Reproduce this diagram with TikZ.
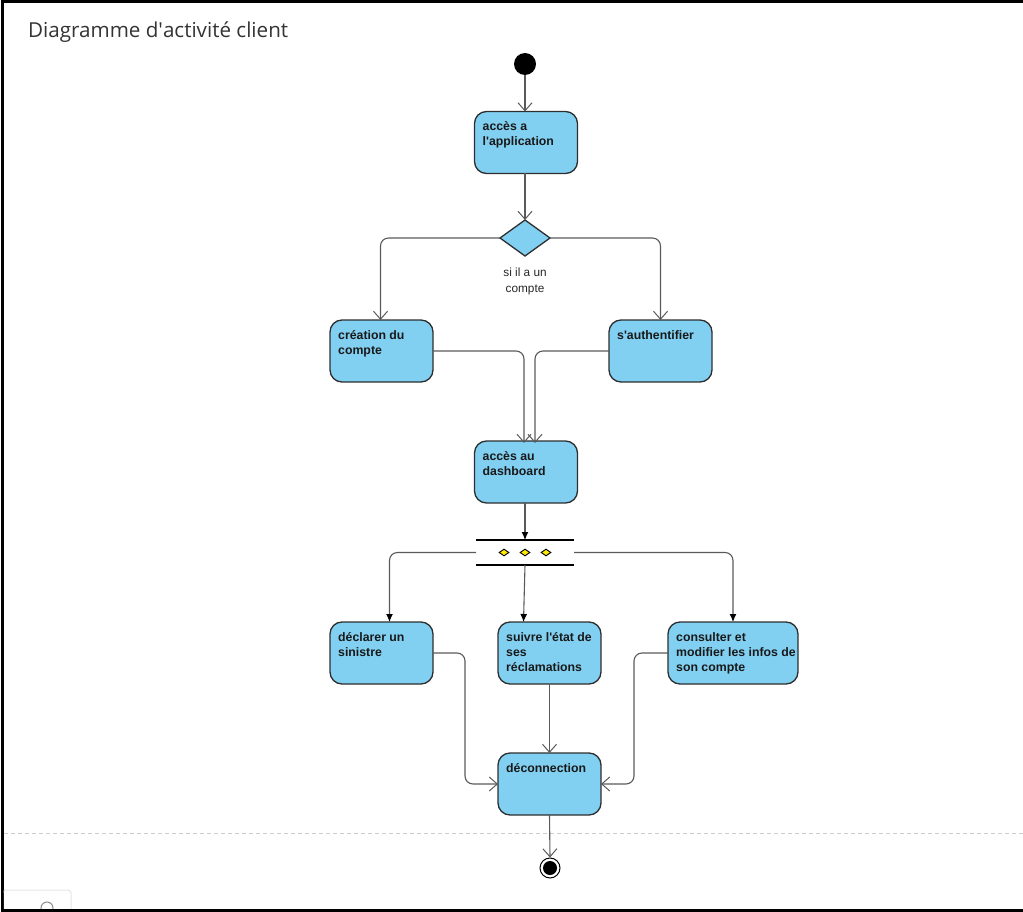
\documentclass[tikz,border=0pt]{standalone}
\usepackage{fontspec}
\setmainfont{Liberation Sans}
\newfontfamily\titlefont{Open Sans}
\usetikzlibrary{arrows.meta,shapes.geometric}

\definecolor{actfill}{HTML}{81D0F2}
\definecolor{actdraw}{HTML}{2E2E2E}
\definecolor{flow}{HTML}{5A5A5A}
\definecolor{titlegray}{HTML}{333333}

\newcommand{\apos}{\textquotesingle}

\tikzset{
  activity/.style={draw=actdraw, fill=actfill, line width=1.3pt, rounded corners=12pt,
    minimum width=#1, minimum height=62pt, inner sep=0pt, outer sep=0pt},
  activity/.default=103pt,
  acttext/.style={font=\fontsize{12.3}{15}\selectfont\bfseries, text=black!90,
    align=left, anchor=north west, inner sep=0pt},
  flowline/.style={draw=flow, line width=1.1pt, rounded corners=8pt},
  openarrow/.style={flowline, -{Straight Barb[length=8pt,width=14pt,line width=1pt]}},
  forkarrow/.style={flowline, -{Latex[length=8pt,width=7pt]}, arrows={[color=black]}},
  decision/.style={diamond, draw=actdraw, fill=actfill, line width=1.3pt,
    minimum width=50pt, minimum height=36pt, inner sep=0pt, outer sep=0pt},
  pip/.style={diamond, draw=black, fill=yellow!90!orange, line width=0.9pt,
    minimum width=10pt, minimum height=7pt, inner sep=0pt},
  forkbar/.style={line width=2pt, draw=black},
}

\begin{document}
\begin{tikzpicture}[x=1pt, y=-1pt]
  \useasboundingbox (0,0) rectangle (1023,912);

  % frame and page guides
  \draw[black, line width=3pt] (1023,2) -- (2,2) -- (2,910) -- (1023,910);
  \draw[black!20, line width=1pt, dash pattern=on 4pt off 3pt] (4,833) -- (1023,833);
  \begin{scope}
    \clip (3.5,0) rectangle (1023,908.5);
    \draw[black!10, line width=1pt, rounded corners=3pt] (3,890) rectangle (71,930);
    \draw[black!45, line width=1pt] (47,908) circle (6pt);
  \end{scope}

  % title
  \node[anchor=west, font=\titlefont\fontsize{20.6}{24}\selectfont, text=titlegray, inner sep=0pt]
    (title) at (28,32.5) {Diagramme d\apos activité client};

  % start and end
  \node[circle, fill=black, minimum size=22pt, inner sep=0pt] (start) at (525,64) {};
  \node[circle, draw=black, fill=white, line width=1pt, minimum size=20pt, inner sep=0pt] (endo) at (550,868) {};
  \node[circle, fill=black, minimum size=14pt, inner sep=0pt] (endi) at (550,868) {};

  % activities
  \node[activity] (acc) at (526,142.5) {};
  \node[acttext] (acct) at ([xshift=8pt,yshift=-10pt]acc.north west) {accès a\\l\apos application};

  \node[decision] (dec) at (525,238) {};
  \node[font=\fontsize{11.8}{16}\selectfont, align=center, text=black!85] (declbl) at (525,281)
    {si il a un\\compte};

  \node[activity] (crea) at (381.5,351) {};
  \node[acttext] (creat) at ([xshift=8pt,yshift=-10pt]crea.north west) {création du\\compte};

  \node[activity] (auth) at (660.5,351) {};
  \node[acttext] (autht) at ([xshift=8pt,yshift=-10pt]auth.north west) {s\apos authentifier};

  \node[activity] (dash) at (526,472) {};
  \node[acttext] (dasht) at ([xshift=8pt,yshift=-10pt]dash.north west) {accès au\\dashboard};

  % fork bar
  \node[minimum width=98pt, minimum height=25pt, inner sep=0pt, outer sep=0pt] (fork) at (525,552.5) {};
  \draw[forkbar] (fork.north west) -- (fork.north east);
  \draw[forkbar] (fork.south west) -- (fork.south east);
  \node[pip] (pipa) at (504,552.5) {};
  \node[pip] (pipb) at (525,552.5) {};
  \node[pip] (pipc) at (546,552.5) {};

  \node[activity] (decl) at (381.5,653) {};
  \node[acttext] (declt) at ([xshift=8pt,yshift=-10pt]decl.north west) {déclarer un\\sinistre};

  \node[activity] (suiv) at (549.5,653) {};
  \node[acttext] (suivt) at ([xshift=8pt,yshift=-10pt]suiv.north west) {suivre l\apos état de\\ses\\réclamations};

  \node[activity=130pt] (cons) at (733,653) {};
  \node[acttext] (const) at ([xshift=8pt,yshift=-10pt]cons.north west) {consulter et\\modifier les infos de\\son compte};

  \node[activity] (deco) at (549.5,784) {};
  \node[acttext] (decot) at ([xshift=8pt,yshift=-10pt]deco.north west) {déconnection};

  % flows
  \draw[openarrow] (start) -- (acc.north -| start);
  \draw[openarrow] (acc.south -| dec) -- (dec.north);
  \draw[openarrow] (dec.west) -| ([xshift=-1pt]crea.north);
  \draw[openarrow] (dec.east) -| (auth.north);
  \draw[openarrow] (crea.east) -| ([xshift=-2pt,yshift=-2pt]dash.north);
  \draw[openarrow] (auth.west) -| ([xshift=9pt,yshift=-2pt]dash.north);
  \draw[forkarrow] (dash.south -| fork) -- (fork.north);
  \draw[forkarrow] (fork.west) -| ([xshift=8pt]decl.north);
  \draw[forkarrow] (fork.south) -- ([xshift=-26pt]suiv.north);
  \draw[forkarrow] (fork.east) -| (cons.north);
  \draw[openarrow] (decl.east) -| ([xshift=-33pt]deco.west) -- (deco.west);
  \draw[openarrow] (cons.west) -| ([xshift=33pt]deco.east) -- (deco.east);
  \draw[openarrow] (suiv.south) -- (deco.north);
  \draw[openarrow] (deco.south) -- (endo.north);
\end{tikzpicture}
\end{document}
